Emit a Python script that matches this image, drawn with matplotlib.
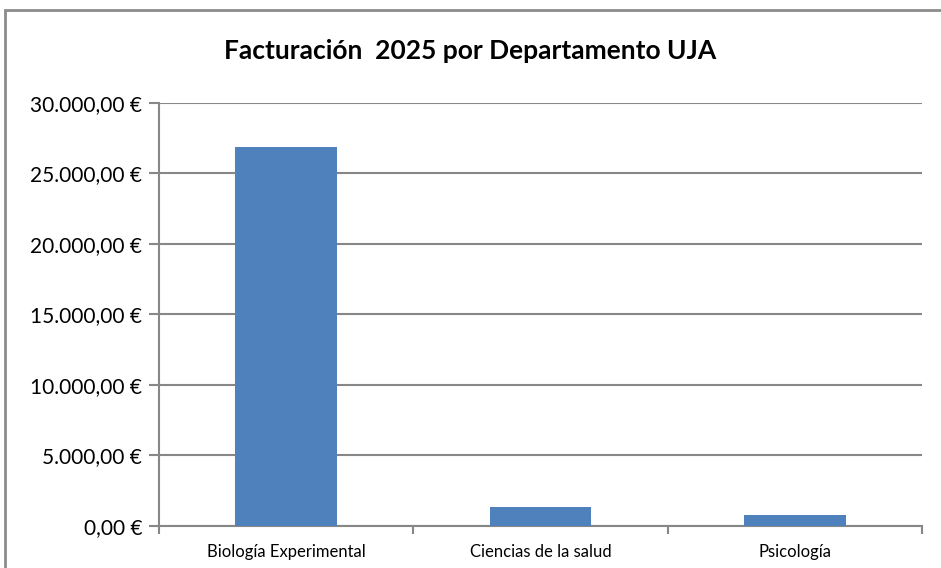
import numpy as np
import matplotlib as mpl
import matplotlib.pyplot as plt
from matplotlib.patches import Rectangle
from matplotlib.ticker import FuncFormatter, MultipleLocator

# data
departamentos = ['Biología Experimental', 'Ciencias de la salud', 'Psicología']
facturacion = [26850, 1330, 770]

mpl.rcParams['font.family'] = ['Lato', 'DejaVu Sans']

fig = plt.figure(figsize=(9.41, 5.68), dpi=100)
ax = fig.add_axes([0.169, 0.074, 0.811, 0.745])

# chart border
fig.patches.append(Rectangle((0.005, -0.1), 1.1, 1.082, transform=fig.transFigure,
                             fill=False, edgecolor='#8c8c8c', linewidth=2.0))

index = np.arange(len(departamentos))
ax.bar(index, facturacion, 0.4, color='#4F81BD', zorder=3)

ax.set_xlim(-0.5, 2.5)
ax.set_ylim(0, 30000)
ax.yaxis.set_major_locator(MultipleLocator(5000))


def euro(v, pos):
    s = '{:,.2f}'.format(v).replace(',', 'X').replace('.', ',').replace('X', '.')
    return s + ' €'


ax.yaxis.set_major_formatter(FuncFormatter(euro))
ax.grid(axis='y', color='#878787', linewidth=1.5, zorder=0)
ax.set_axisbelow(True)

ax.set_xticks([-0.5, 0.5, 1.5, 2.5], minor=False)
ax.set_xticklabels([])
ax.set_xticks(index, minor=True)
ax.set_xticklabels(departamentos, minor=True, fontsize=12)
ax.tick_params(axis='x', which='minor', length=0, pad=13)
ax.tick_params(axis='x', which='major', length=6, width=1.5, color='#878787')
ax.tick_params(axis='y', length=7, width=1.5, color='#878787', labelsize=15, pad=5)

for s in ['top', 'right']:
    ax.spines[s].set_visible(False)
for s in ['left', 'bottom']:
    ax.spines[s].set_color('#878787')
    ax.spines[s].set_linewidth(1.5)

fig.text(0.5, 0.91, 'Facturación  2025 por Departamento UJA', ha='center', va='center',
         fontsize=19, fontweight='bold')

plt.savefig('out.png', dpi=100, facecolor='w')
